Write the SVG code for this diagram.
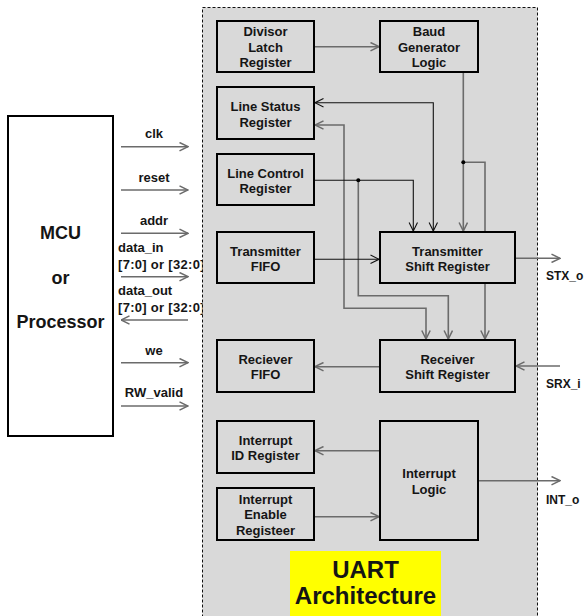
<svg xmlns="http://www.w3.org/2000/svg" width="584" height="616" viewBox="0 0 584 616">
<defs>
<style>
text{font-family:"Liberation Sans",Arial,sans-serif;font-weight:bold;fill:#151515;}
.lbl{font-size:13px;text-anchor:middle;}
.sig{font-size:13px;}
.rsig{font-size:12px;}
.mid{text-anchor:middle;}
.box{fill:#d9d9d9;stroke:#000;stroke-width:2;}
.g{fill:none;stroke:#6b6b6b;stroke-width:1.6;}
.k{fill:none;stroke:#111;stroke-width:1.1;}
</style>
<marker id="ag" viewBox="0 0 10 10" refX="9.5" refY="5" markerWidth="10" markerHeight="10" markerUnits="userSpaceOnUse" orient="auto-start-reverse"><path d="M1,0.8 L9.5,5 L1,9.2" fill="none" stroke="#6b6b6b" stroke-width="1.5"/></marker>
<marker id="ak" viewBox="0 0 10 10" refX="9.5" refY="5" markerWidth="10" markerHeight="10" markerUnits="userSpaceOnUse" orient="auto-start-reverse"><path d="M1,0.8 L9.5,5 L1,9.2" fill="none" stroke="#111" stroke-width="1.1"/></marker>
</defs>
<rect width="584" height="616" fill="#fff"/>

<g id="signals-left">
<text class="sig mid" x="154" y="138">clk</text>
<text class="sig mid" x="154" y="182">reset</text>
<text class="sig mid" x="154" y="225">addr</text>
<text class="sig" x="118" y="252">data_in</text>
<text class="sig" x="118" y="269" letter-spacing="0.3">[7:0] or [32:0]</text>
<text class="sig" x="118" y="295">data_out</text>
<text class="sig" x="118" y="312" letter-spacing="0.3">[7:0] or [32:0]</text>
<text class="sig mid" x="154" y="355">we</text>
<text class="sig mid" x="154" y="397">RW_valid</text>
</g>

<g id="uart">
<rect x="202.5" y="7.5" width="335" height="620" fill="#d9d9d9" stroke="#111" stroke-width="1" stroke-dasharray="3,2"/>
</g>

<g id="mcu">
<rect x="8" y="116" width="105" height="320" fill="#fff" stroke="#000" stroke-width="2"/>
<text class="mid" x="60.5" y="239" font-size="18">MCU</text>
<text class="mid" x="60.5" y="284" font-size="18">or</text>
<text class="mid" x="60.5" y="328" font-size="18">Processor</text>
</g>

<g id="connectors">
<line class="g" x1="121" y1="146.7" x2="188" y2="146.7" marker-end="url(#ag)"/>
<line class="g" x1="121" y1="190" x2="188" y2="190" marker-end="url(#ag)"/>
<line class="g" x1="121" y1="233.3" x2="188" y2="233.3" marker-end="url(#ag)"/>
<line class="g" x1="121" y1="276.7" x2="188" y2="276.7" marker-end="url(#ag)"/>
<line class="g" x1="188" y1="320" x2="121" y2="320" marker-end="url(#ag)"/>
<line class="g" x1="121" y1="362.7" x2="188" y2="362.7" marker-end="url(#ag)"/>
<line class="g" x1="121" y1="406" x2="188" y2="406" marker-end="url(#ag)"/>

<line class="g" x1="315" y1="46.7" x2="379" y2="46.7" marker-end="url(#ag)"/>
<polyline class="k" points="315,102.7 433.3,102.7 433.3,231" marker-start="url(#ak)" marker-end="url(#ak)"/>
<polyline class="g" points="315,125 344,125 344,308.3 426,308.3 426,339" marker-start="url(#ag)" marker-end="url(#ag)"/>
<polyline class="k" points="315,180.3 413.3,180.3 413.3,231" marker-end="url(#ak)"/>
<polyline class="g" points="358.3,180.3 358.3,295.7 448.3,295.7 448.3,339" marker-end="url(#ag)"/>
<line class="g" x1="463.3" y1="73" x2="463.3" y2="231" marker-end="url(#ag)"/>
<polyline class="g" points="463.3,162.3 485,162.3 485,339" marker-end="url(#ag)"/>
<circle cx="358.3" cy="180.3" r="2" fill="#000"/>
<circle cx="463.3" cy="162.3" r="2" fill="#000"/>

<line class="k" x1="315" y1="259.3" x2="379" y2="259.3" marker-end="url(#ak)"/>
<line class="g" x1="516" y1="258.3" x2="560" y2="258.3" marker-end="url(#ag)"/>
<line class="g" x1="379" y1="366.7" x2="315" y2="366.7" marker-end="url(#ag)"/>
<line class="g" x1="560" y1="366" x2="516" y2="366" marker-end="url(#ag)"/>
<line class="g" x1="379" y1="450.7" x2="315" y2="450.7" marker-end="url(#ag)"/>
<line class="g" x1="315" y1="516.7" x2="379" y2="516.7" marker-end="url(#ag)"/>
<line class="g" x1="478.5" y1="480.7" x2="560" y2="480.7" marker-end="url(#ag)"/>
</g>

<g id="divisor-latch">
<rect class="box" x="217" y="21" width="97" height="51"/>
<text class="lbl" x="265.5" y="36">Divisor</text>
<text class="lbl" x="265.5" y="51.5">Latch</text>
<text class="lbl" x="265.5" y="67">Register</text>
</g>
<g id="baud-generator">
<rect class="box" x="380" y="21" width="98" height="51"/>
<text class="lbl" x="429" y="36">Baud</text>
<text class="lbl" x="429" y="51.5">Generator</text>
<text class="lbl" x="429" y="67">Logic</text>
</g>
<g id="line-status">
<rect class="box" x="217" y="87" width="97" height="52"/>
<text class="lbl" x="265.5" y="111">Line Status</text>
<text class="lbl" x="265.5" y="126.5">Register</text>
</g>
<g id="line-control">
<rect class="box" x="217" y="154" width="97" height="51"/>
<text class="lbl" x="265.5" y="177.5">Line Control</text>
<text class="lbl" x="265.5" y="193">Register</text>
</g>
<g id="transmitter-fifo">
<rect class="box" x="217" y="232" width="97" height="51"/>
<text class="lbl" x="265.5" y="255.5">Transmitter</text>
<text class="lbl" x="265.5" y="271">FIFO</text>
</g>
<g id="transmitter-shift">
<rect class="box" x="380" y="232" width="135" height="51"/>
<text class="lbl" x="447.5" y="255.5">Transmitter</text>
<text class="lbl" x="447.5" y="271">Shift Register</text>
</g>
<g id="receiver-fifo">
<rect class="box" x="217" y="340" width="97" height="52"/>
<text class="lbl" x="265.5" y="363.5">Reciever</text>
<text class="lbl" x="265.5" y="379">FIFO</text>
</g>
<g id="receiver-shift">
<rect class="box" x="380" y="340" width="135" height="52"/>
<text class="lbl" x="447.5" y="363.5">Receiver</text>
<text class="lbl" x="447.5" y="379">Shift Register</text>
</g>
<g id="interrupt-id">
<rect class="box" x="217" y="421" width="97" height="52"/>
<text class="lbl" x="265.5" y="444.5">Interrupt</text>
<text class="lbl" x="265.5" y="460">ID Register</text>
</g>
<g id="interrupt-enable">
<rect class="box" x="217" y="488" width="97" height="52"/>
<text class="lbl" x="265.5" y="503.5">Interrupt</text>
<text class="lbl" x="265.5" y="519">Enable</text>
<text class="lbl" x="265.5" y="534.5">Registeer</text>
</g>
<g id="interrupt-logic">
<rect class="box" x="380" y="421" width="98" height="119"/>
<text class="lbl" x="429" y="478">Interrupt</text>
<text class="lbl" x="429" y="493.5">Logic</text>
</g>

<g id="signals-right">
<text class="rsig" x="546" y="280">STX_o</text>
<text class="rsig" x="546" y="388">SRX_i</text>
<text class="rsig" x="546" y="504">INT_o</text>
</g>

<g id="title">
<rect x="290" y="551" width="151" height="70" fill="#ffff00"/>
<text class="mid" x="365.5" y="578" font-size="24">UART</text>
<text class="mid" x="365.5" y="604" font-size="24">Architecture</text>
</g>
</svg>
